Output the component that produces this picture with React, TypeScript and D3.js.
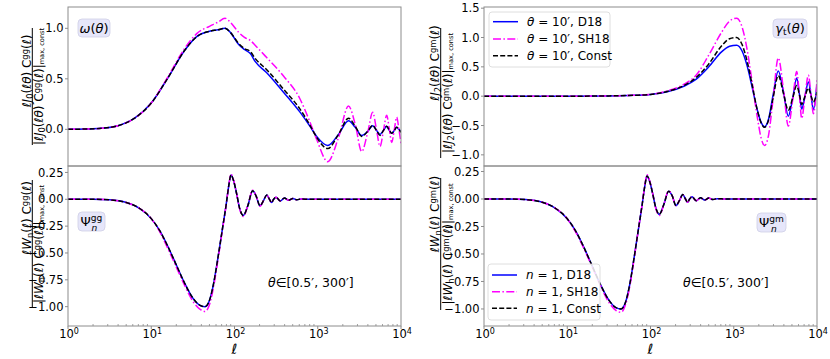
import React from 'react';
import * as d3 from 'd3';

// x positions are log10(ell)
const wLogEll = [0, 0.2, 0.4, 0.6, 0.8, 1.0, 1.2, 1.4, 1.55, 1.7, 1.8, 1.886, 1.95, 2.05, 2.12, 2.19, 2.25, 2.387, 2.586, 2.787, 2.907, 2.987, 3.12, 3.25, 3.37, 3.45, 3.528, 3.6, 3.66, 3.705, 3.748, 3.79, 3.828, 3.86, 3.888, 3.92, 3.948, 3.975, 4.0];
const wConst = [0, 0.003, 0.01, 0.035, 0.11, 0.26, 0.51, 0.78, 0.92, 0.97, 0.985, 1.0, 0.96, 0.85, 0.8, 0.77, 0.7, 0.59, 0.4, 0.2, 0.04, -0.08, -0.19, -0.05, 0.11, 0.03, -0.07, -0.02, 0.04, -0.01, -0.06, -0.01, 0.03, -0.01, -0.04, -0.01, 0.02, 0.0, -0.03];
const wD18 = [0, 0.003, 0.01, 0.035, 0.11, 0.26, 0.51, 0.78, 0.92, 0.97, 0.985, 1.0, 0.96, 0.84, 0.79, 0.75, 0.67, 0.56, 0.37, 0.17, 0.03, -0.07, -0.16, -0.05, 0.085, 0.02, -0.06, -0.02, 0.035, -0.01, -0.05, -0.01, 0.03, -0.01, -0.04, -0.01, 0.02, 0.0, -0.025];
const wSH18 = [0, 0.003, 0.01, 0.035, 0.11, 0.26, 0.52, 0.8, 0.95, 1.02, 1.06, 1.1, 1.06, 0.96, 0.91, 0.88, 0.83, 0.71, 0.53, 0.3, 0.07, -0.1, -0.32, -0.08, 0.23, 0.05, -0.22, -0.03, 0.17, 0.0, -0.17, -0.01, 0.14, 0.0, -0.13, 0.0, 0.12, 0.0, -0.14];

const gLogEll = [0, 0.5, 1.0, 1.5, 1.8, 2.0, 2.2, 2.4, 2.55, 2.7, 2.85, 2.95, 3.035, 3.1, 3.16, 3.22, 3.28, 3.33, 3.37, 3.42, 3.47, 3.535, 3.6, 3.655, 3.71, 3.756, 3.79, 3.816, 3.856, 3.896, 3.93, 3.956, 4.0];
const gConst = [0, 0, 0, 0.005, 0.015, 0.03, 0.08, 0.18, 0.32, 0.55, 0.85, 0.98, 1.0, 0.88, 0.6, 0.2, -0.22, -0.46, -0.53, -0.4, -0.05, 0.35, 0.03, -0.24, -0.02, 0.18, 0.02, -0.14, 0.0, 0.14, 0.0, -0.1, 0.07];
const gD18 = [0, 0, 0, 0.005, 0.015, 0.03, 0.075, 0.17, 0.29, 0.5, 0.75, 0.85, 0.87, 0.77, 0.52, 0.16, -0.22, -0.45, -0.52, -0.38, 0.0, 0.43, 0.05, -0.34, -0.02, 0.31, 0.02, -0.22, 0.0, 0.24, 0.0, -0.23, 0.2];
const gSH18 = [0, 0, 0, 0.005, 0.015, 0.03, 0.09, 0.2, 0.36, 0.7, 1.08, 1.28, 1.33, 1.18, 0.8, 0.25, -0.33, -0.72, -0.84, -0.65, -0.08, 0.65, 0.08, -0.51, -0.04, 0.42, 0.0, -0.38, 0.0, 0.36, 0.0, -0.3, 0.28];

const psiLogEll = [0, 0.3, 0.5, 0.7, 0.85, 1.0, 1.1, 1.2, 1.3, 1.4, 1.5, 1.58, 1.646, 1.7, 1.75, 1.8, 1.85, 1.9, 1.93, 1.958, 1.99, 2.026, 2.06, 2.106, 2.16, 2.218, 2.26, 2.306, 2.35, 2.387, 2.42, 2.446, 2.47, 2.498, 2.55, 2.6, 2.65, 2.7, 2.75, 2.8, 2.9, 3.0, 4.0];
const psiGgConst = [0, 0, -0.005, -0.03, -0.08, -0.18, -0.29, -0.44, -0.61, -0.78, -0.92, -0.985, -1.0, -0.94, -0.78, -0.55, -0.3, -0.05, 0.12, 0.226, 0.17, 0.05, -0.08, -0.15, -0.06, 0.08, 0.03, -0.06, -0.01, 0.04, 0.0, -0.03, 0.0, 0.02, -0.015, 0.012, -0.01, 0.008, -0.005, 0.003, 0, 0, 0];
const psiGgD18 = [0, 0, -0.005, -0.03, -0.08, -0.18, -0.29, -0.44, -0.61, -0.78, -0.92, -0.985, -1.0, -0.94, -0.78, -0.55, -0.3, -0.05, 0.12, 0.226, 0.17, 0.05, -0.08, -0.15, -0.06, 0.08, 0.03, -0.06, -0.01, 0.04, 0.0, -0.03, 0.0, 0.02, -0.015, 0.012, -0.01, 0.008, -0.005, 0.003, 0, 0, 0];
const psiGgSH18 = [0, 0, -0.005, -0.03, -0.08, -0.18, -0.3, -0.46, -0.63, -0.8, -0.95, -1.02, -1.045, -0.98, -0.81, -0.57, -0.31, -0.05, 0.125, 0.235, 0.175, 0.05, -0.085, -0.16, -0.06, 0.085, 0.03, -0.065, -0.01, 0.04, 0.0, -0.03, 0.0, 0.02, -0.015, 0.012, -0.01, 0.008, -0.005, 0.003, 0, 0, 0];
const psiGmConst = [0, 0, -0.005, -0.03, -0.08, -0.18, -0.29, -0.44, -0.61, -0.78, -0.92, -0.985, -1.0, -0.94, -0.78, -0.55, -0.3, -0.05, 0.11, 0.21, 0.16, 0.05, -0.07, -0.14, -0.05, 0.07, 0.03, -0.06, -0.01, 0.04, 0.0, -0.03, 0.0, 0.02, -0.015, 0.012, -0.01, 0.008, -0.005, 0.003, 0, 0, 0];
const psiGmD18 = [0, 0, -0.005, -0.03, -0.08, -0.18, -0.29, -0.44, -0.61, -0.78, -0.92, -0.985, -1.0, -0.94, -0.78, -0.55, -0.3, -0.05, 0.11, 0.21, 0.16, 0.05, -0.07, -0.14, -0.05, 0.07, 0.03, -0.06, -0.01, 0.04, 0.0, -0.03, 0.0, 0.02, -0.015, 0.012, -0.01, 0.008, -0.005, 0.003, 0, 0, 0];
const psiGmSH18 = [0, 0, -0.005, -0.03, -0.08, -0.18, -0.3, -0.45, -0.62, -0.79, -0.94, -1.01, -1.03, -0.96, -0.8, -0.56, -0.3, -0.05, 0.115, 0.22, 0.165, 0.05, -0.075, -0.15, -0.05, 0.075, 0.03, -0.06, -0.01, 0.04, 0.0, -0.03, 0.0, 0.02, -0.015, 0.012, -0.01, 0.008, -0.005, 0.003, 0, 0, 0];

const ytickTopLeft = [0.0, 0.5, 1.0];
const ytickTopRight = [-1.0, -0.5, 0.0, 0.5, 1.0, 1.5];
const ytickBottom = [-1.0, -0.75, -0.5, -0.25, 0.0, 0.25];
const xtickExp = [0, 1, 2, 3, 4];

const FONT = 'DejaVu Sans, sans-serif';
const AXIS = '#8c8c8c';
const styles = {
  D18: { stroke: '#0000ff', dash: undefined },
  SH18: { stroke: '#ff00ff', dash: '8,2.4,1.5,2.4' },
  Const: { stroke: '#000000', dash: '5,2.2' },
};

const fmt = (v: number, digits: number) => (v < 0 ? '\u2212' : '') + Math.abs(v).toFixed(digits);

type Series = { key: 'D18' | 'SH18' | 'Const'; xs: number[]; ys: number[] };

function Panel({ id, x0, x1, y0, y1, domain, ticks, digits, series, showX }: {
  id: string; x0: number; x1: number; y0: number; y1: number; domain: [number, number];
  ticks: number[]; digits: number; series: Series[]; showX: boolean;
}) {
  const x = d3.scaleLog().domain([1, 1e4]).range([x0, x1]);
  const y = d3.scaleLinear().domain(domain).range([y1, y0]);
  const line = (s: Series) =>
    d3.line<number>().x((_, i) => x(Math.pow(10, s.xs[i]))).y(d => y(d)).curve(d3.curveMonotoneX)(s.ys) || '';
  const minor: number[] = [];
  if (showX) {
    for (let e = 0; e < 4; e++) for (let k = 2; k <= 9; k++) minor.push(k * Math.pow(10, e));
  }
  return (
    <g>
      <defs>
        <clipPath id={id}><rect x={x0} y={y0} width={x1 - x0} height={y1 - y0} /></clipPath>
      </defs>
      <g clipPath={`url(#${id})`}>
        {series.map(s => (
          <path key={s.key} d={line(s)} fill="none" stroke={styles[s.key].stroke}
            strokeWidth={1.5} strokeDasharray={styles[s.key].dash} />
        ))}
      </g>
      <rect x={x0} y={y0} width={x1 - x0} height={y1 - y0} fill="none" stroke={AXIS} strokeWidth={1} />
      {ticks.map(t => (
        <g key={t}>
          <line x1={x0 - 3} x2={x0} y1={y(t)} y2={y(t)} stroke={AXIS} />
          <text x={x0 - 4.5} y={y(t)} dy="0.36em" textAnchor="end" fontSize={11.5} fontFamily={FONT}>{fmt(t, digits)}</text>
        </g>
      ))}
      {showX && minor.map(m => (
        <line key={m} x1={x(m)} x2={x(m)} y1={y1} y2={y1 - 2} stroke={AXIS} strokeWidth={0.8} />
      ))}
      {showX && xtickExp.map(e => (
        <g key={e}>
          <line x1={x(Math.pow(10, e))} x2={x(Math.pow(10, e))} y1={y1} y2={y1 + 3} stroke={AXIS} />
          <text x={x(Math.pow(10, e)) + 1} y={y1 + 12} textAnchor="middle" fontSize={11.5} fontFamily={FONT}>
            10<tspan fontSize={8} dy={-4.5}>{e}</tspan>
          </text>
        </g>
      ))}
      {showX && (
        <text x={(x0 + x1) / 2} y={354} textAnchor="middle" fontSize={14} fontStyle="italic" fontFamily={FONT}>ℓ</text>
      )}
    </g>
  );
}

function Frac({ barX, numBase, denBase, numCY, denCY, bar, num, den }: {
  barX: number; numBase: number; denBase: number; numCY: number; denCY: number; bar: [number, number];
  num: React.ReactNode; den: React.ReactNode;
}) {
  return (
    <g fontFamily={FONT} fontSize={12}>
      <text transform={`translate(${numBase},${numCY}) rotate(-90)`} textAnchor="middle">{num}</text>
      <line x1={barX} x2={barX} y1={bar[0]} y2={bar[1]} stroke="#000" strokeWidth={1} />
      <text transform={`translate(${denBase},${denCY}) rotate(-90)`} textAnchor="middle">{den}</text>
    </g>
  );
}

const It = ({ children }: { children: React.ReactNode }) => <tspan fontStyle="italic">{children}</tspan>;
const Sub = ({ children, size = '70%' }: { children: React.ReactNode; size?: string }) => <tspan fontSize={size} baselineShift="-20%">{children}</tspan>;
const Sup = ({ children }: { children: React.ReactNode }) => <tspan fontSize="70%" baselineShift="40%">{children}</tspan>;

const expr = (fn: string, sub: string, arg: string, spec: string) => (
  <>
    <It>ℓ{fn}</It><Sub>{sub}</Sub>(<It>{arg}</It>) C<Sup>{spec}</Sup>(<It>ℓ</It>)
  </>
);

function InfoBox({ x, y, w, h, children }: { x: number; y: number; w: number; h: number; children: React.ReactNode }) {
  return (
    <g>
      <rect x={x} y={y} width={w} height={h} rx={4} fill="#e6e6fa" stroke="#cfcfe6" strokeWidth={0.8} />
      <text x={x + w / 2} y={y + h / 2} dy="0.36em" textAnchor="middle" fontSize={13} fontFamily={FONT}>{children}</text>
    </g>
  );
}

function Legend({ x, y, w, h, labels, rows }: { x: number; y: number; w: number; h: number; labels: React.ReactNode[]; rows: number[] }) {
  const keys: Series['key'][] = ['D18', 'SH18', 'Const'];
  return (
    <g>
      <rect x={x} y={y} width={w} height={h} rx={3} fill="#fff" fillOpacity={0.85} stroke="#d5d5d5" strokeWidth={0.8} />
      {keys.map((k, i) => (
        <g key={k}>
          <line x1={x + 4} x2={x + 29} y1={rows[i]} y2={rows[i]} stroke={styles[k].stroke} strokeWidth={1.5} strokeDasharray={styles[k].dash} />
          <text x={x + 38} y={rows[i]} dy="0.36em" fontSize={12} fontFamily={FONT}>{labels[i]}</text>
        </g>
      ))}
    </g>
  );
}

export default function App() {
  const LX0 = 68, LX1 = 401, RX0 = 484, RX1 = 817;
  const T0 = 7, MID = 166, B1 = 326;
  const thetaLab = (name: string) => (<><It>θ</It> = 10′, {name}</>);
  const nLab = (name: string) => (<><It>n</It> = 1, {name}</>);
  const rangeText = (<><It>θ</It>∈[0.5′, 300′]</>);
  const maxConst = <Sub size="55%">max, const</Sub>;
  return (
    <svg width={830} height={359} style={{ position: 'absolute', left: 0, top: 0, background: '#fff' }}>
      <Panel id="c1" x0={LX0} x1={LX1} y0={T0} y1={MID} domain={[-0.363, 1.211]} ticks={ytickTopLeft} digits={1} showX={false}
        series={[
          { key: 'D18', xs: wLogEll, ys: wD18 },
          { key: 'SH18', xs: wLogEll, ys: wSH18 },
          { key: 'Const', xs: wLogEll, ys: wConst },
        ]} />
      <Panel id="c2" x0={RX0} x1={RX1} y0={T0} y1={MID} domain={[-1.19, 1.52]} ticks={ytickTopRight} digits={1} showX={false}
        series={[
          { key: 'D18', xs: gLogEll, ys: gD18 },
          { key: 'SH18', xs: gLogEll, ys: gSH18 },
          { key: 'Const', xs: gLogEll, ys: gConst },
        ]} />
      <Panel id="c3" x0={LX0} x1={LX1} y0={MID} y1={B1} domain={[-1.18, 0.31]} ticks={ytickBottom} digits={2} showX={true}
        series={[
          { key: 'D18', xs: psiLogEll, ys: psiGgD18 },
          { key: 'SH18', xs: psiLogEll, ys: psiGgSH18 },
          { key: 'Const', xs: psiLogEll, ys: psiGgConst },
        ]} />
      <Panel id="c4" x0={RX0} x1={RX1} y0={MID} y1={B1} domain={[-1.155, 0.3]} ticks={ytickBottom} digits={2} showX={true}
        series={[
          { key: 'D18', xs: psiLogEll, ys: psiGmD18 },
          { key: 'SH18', xs: psiLogEll, ys: psiGmSH18 },
          { key: 'Const', xs: psiLogEll, ys: psiGmConst },
        ]} />

      <Frac barX={32.3} numBase={30.5} denBase={43} numCY={71} denCY={86.5} bar={[28, 145]}
        num={expr('J', '0', 'ℓθ', 'gg')}
        den={<>|{expr('J', '0', 'ℓθ', 'gg')}|{maxConst}</>} />
      <Frac barX={32.3} numBase={30.5} denBase={43} numCY={218} denCY={244} bar={[180, 307]}
        num={expr('W', 'n', 'ℓ', 'gg')}
        den={<>|{expr('W', 'n', 'ℓ', 'gg')}|{maxConst}</>} />
      <Frac barX={440.7} numBase={439} denBase={451.5} numCY={63} denCY={93} bar={[28, 158]}
        num={expr('J', '2', 'ℓθ', 'gm')}
        den={<>|{expr('J', '2', 'ℓθ', 'gm')}|{maxConst}</>} />
      <Frac barX={440.7} numBase={439} denBase={451.5} numCY={214} denCY={244} bar={[178, 310]}
        num={expr('W', 'n', 'ℓ', 'gm')}
        den={<>|{expr('W', 'n', 'ℓ', 'gm')}|{maxConst}</>} />

      <InfoBox x={78} y={19} w={32} h={18}><It>ω</It>(<It>θ</It>)</InfoBox>
      <InfoBox x={773} y={19} w={34} h={19}><It>γ</It><Sub>t</Sub>(<It>θ</It>)</InfoBox>
      <InfoBox x={78} y={212} w={27} h={19}>Ψ<tspan fontSize="70%" dy={-5}>gg</tspan><tspan fontSize="70%" fontStyle="italic" dx={-11} dy={10}>n</tspan></InfoBox>
      <InfoBox x={757} y={213} w={29} h={19}>Ψ<tspan fontSize="70%" dy={-5}>gm</tspan><tspan fontSize="70%" fontStyle="italic" dx={-13} dy={10}>n</tspan></InfoBox>

      <text x={268} y={287} fontSize={12.5} fontFamily={FONT}>{rangeText}</text>
      <text x={683} y={287} fontSize={12.5} fontFamily={FONT}>{rangeText}</text>

      <Legend x={489} y={12} w={121} h={55} rows={[21.7, 39, 55.7]}
        labels={[thetaLab('D18'), thetaLab('SH18'), thetaLab('Const')]} />
      <Legend x={488} y={264} w={112} h={56} rows={[275, 291.7, 308.3]}
        labels={[nLab('D18'), nLab('SH18'), nLab('Const')]} />
    </svg>
  );
}
